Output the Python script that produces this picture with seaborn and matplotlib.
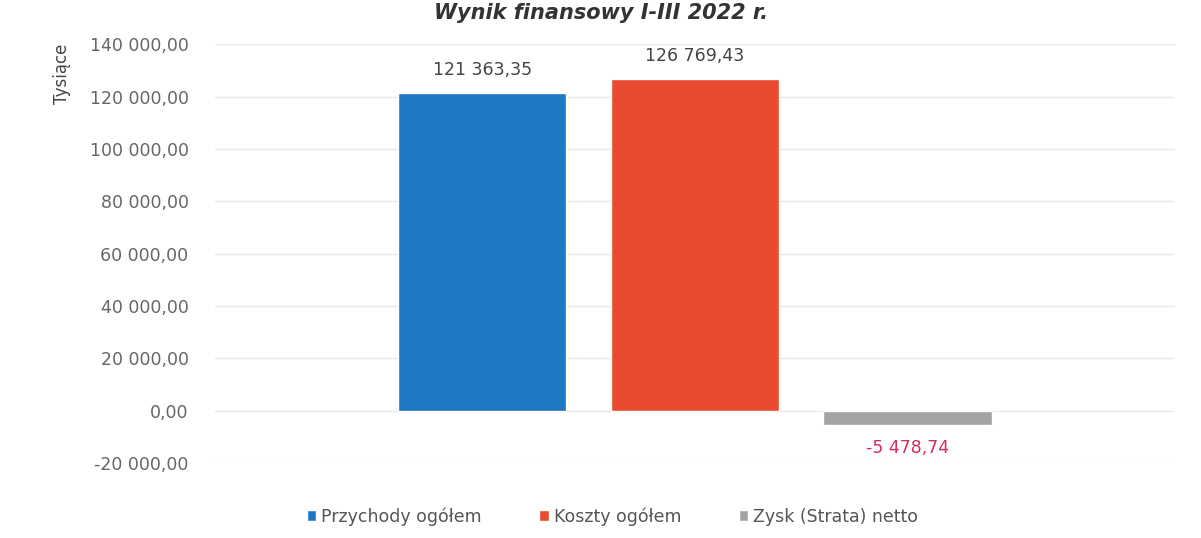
import pandas as pd
import seaborn as sns
import matplotlib.pyplot as plt
from matplotlib.ticker import FuncFormatter

# dane (tys. zl)
kategoria = ["I-III 2022"]
serie = ["Przychody ogółem", "Koszty ogółem", "Zysk (Strata) netto"]
wartosci = [121363.35, 126769.43, -5478.74]
kolory = ["#1f78c4", "#e94b30", "#a3a3a3"]
tytul = "Wynik finansowy I-III 2022 r."

df = pd.DataFrame({"kat": kategoria * len(serie), "seria": serie, "wartosc": wartosci})


def pl_format(v, pos=None):
    s = f"{v:,.2f}"
    return s.replace(",", " ").replace(".", ",")


sns.set_style("white")
plt.rcParams["font.family"] = ["DejaVu Sans"]

fig = plt.figure(figsize=(12.01, 5.38), dpi=100)
ax = fig.add_axes([0.179, 0.139, 0.799, 0.779])

sns.barplot(data=df, x="kat", y="wartosc", hue="seria", palette=kolory,
            saturation=1, width=0.665, gap=0.21, ax=ax, legend=True)

ax.set_ylim(-20000, 140000)
ax.set_yticks(range(-20000, 140001, 20000))
ax.yaxis.set_major_formatter(FuncFormatter(pl_format))
ax.grid(axis="y", color="#e8e8e8", linewidth=1)
ax.set_axisbelow(True)
for s in ax.spines.values():
    s.set_visible(False)
ax.tick_params(axis="y", length=0, labelsize=12.5, labelcolor="#666666", pad=19)
ax.set_xticks([])
ax.set_xlabel("")
ax.set_ylabel("Tysiące", fontsize=12, color="#444444")
ax.yaxis.set_label_coords(-0.15, 0.93)

# etykiety danych
for cont, v in zip(ax.containers, wartosci):
    kolor = "#444444" if v >= 0 else "#d0305a"
    ax.bar_label(cont, labels=[pl_format(v)], padding=10, fontsize=12.5, color=kolor)

uchwyty, etykiety = ax.get_legend_handles_labels()
ax.get_legend().remove()
fig.legend(uchwyty, etykiety, loc="center", bbox_to_anchor=(0.51, 0.04), ncol=3,
           frameon=False, fontsize=12.5, handlelength=0.55, handleheight=0.55,
           columnspacing=3.3, handletextpad=0.3, labelcolor="#555555")

fig.text(0.5, 0.975, tytul, ha="center", va="center", fontsize=15,
         fontweight="bold", fontstyle="italic", color="#333333")

fig.savefig("out.png", dpi=100)
